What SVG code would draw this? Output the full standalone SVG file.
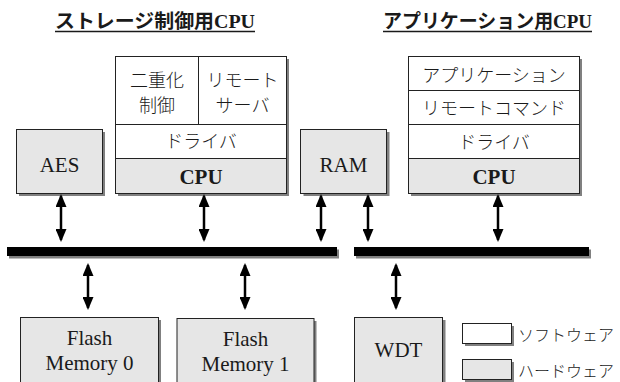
<svg xmlns="http://www.w3.org/2000/svg" width="620" height="382" viewBox="0 0 620 382">
<style>
  text { fill: #1a1a1a; }
  .ttl { font-family: "Liberation Serif", "Noto Sans CJK JP", serif; font-size: 19.5px; font-weight: bold; text-anchor: middle; }
  .jp { font-family: "Noto Sans CJK JP", sans-serif; font-size: 18px; font-weight: 300; text-anchor: middle; }
  .lat { font-family: "Liberation Serif", "DejaVu Serif", serif; font-size: 21px; text-anchor: middle; }
  .latb { font-family: "Liberation Serif", "DejaVu Serif", serif; font-size: 21px; font-weight: bold; text-anchor: middle; }
  .leg { font-family: "Noto Sans CJK JP", sans-serif; font-size: 16px; font-weight: 300; }
  .hw { fill: #e6e6e6; stroke: #222; stroke-width: 1; }
  .sw { fill: #ffffff; stroke: #222; stroke-width: 1; }
  .sh { fill: #808080; }
  .div { stroke: #222; stroke-width: 1; fill: none; }
  .ul { stroke: #1a1a1a; stroke-width: 1.5; }
  .arr { stroke: #000; stroke-width: 2.5; fill: none; marker-start: url(#ah); marker-end: url(#ah); }
  .bus { fill: #000; }
</style>
<defs>
  <marker id="ah" viewBox="0 0 13 11" refX="11" refY="5.5" markerWidth="13" markerHeight="11" markerUnits="userSpaceOnUse" orient="auto-start-reverse">
    <path d="M0,0 L13,5.5 L0,11 z" fill="#000"/>
  </marker>
</defs>

<g id="title-storage">
  <text class="ttl" x="155" y="28" textLength="200" lengthAdjust="spacingAndGlyphs">ストレージ制御用CPU</text>
  <line class="ul" x1="55" y1="31.5" x2="255" y2="31.5"/>
</g>
<g id="title-app">
  <text class="ttl" x="487.5" y="28" textLength="209" lengthAdjust="spacingAndGlyphs">アプリケーション用CPU</text>
  <line class="ul" x1="383" y1="31.5" x2="592" y2="31.5"/>
</g>

<g id="aes">
  <rect class="sh" x="19" y="132" width="86" height="64"/>
  <rect class="hw" x="16.5" y="129.5" width="86" height="64"/>
  <text class="lat" x="59.5" y="172">AES</text>
</g>

<g id="storage-cpu">
  <rect class="sh" x="118" y="59" width="171" height="137"/>
  <rect class="sw" x="115.5" y="56.5" width="171" height="68"/>
  <rect class="sw" x="115.5" y="124.5" width="171" height="34"/>
  <rect class="hw" x="115.5" y="158.5" width="171" height="35"/>
  <line class="div" x1="198.5" y1="56.5" x2="198.5" y2="124.5"/>
  <text class="jp" x="157" y="87">二重化</text>
  <text class="jp" x="157" y="112">制御</text>
  <text class="jp" x="242.5" y="87">リモート</text>
  <text class="jp" x="242.5" y="112">サーバ</text>
  <text class="jp" x="201" y="148">ドライバ</text>
  <text class="latb" x="201" y="184">CPU</text>
</g>

<g id="ram">
  <rect class="sh" x="303.5" y="132" width="86" height="64"/>
  <rect class="hw" x="300.5" y="129.5" width="86" height="64"/>
  <text class="lat" x="343.5" y="172">RAM</text>
</g>

<g id="app-cpu">
  <rect class="sh" x="411" y="59" width="171" height="137"/>
  <rect class="sw" x="408.5" y="56.5" width="171" height="34"/>
  <rect class="sw" x="408.5" y="90.5" width="171" height="34"/>
  <rect class="sw" x="408.5" y="124.5" width="171" height="34"/>
  <rect class="hw" x="408.5" y="158.5" width="171" height="35"/>
  <text class="jp" x="494" y="82">アプリケーション</text>
  <text class="jp" x="494" y="115">リモートコマンド</text>
  <text class="jp" x="494" y="149">ドライバ</text>
  <text class="latb" x="494" y="184">CPU</text>
</g>

<g id="bus-1">
  <rect class="sh" x="9" y="249.5" width="330" height="9"/>
  <rect class="bus" x="7" y="247" width="330" height="9"/>
</g>
<g id="bus-2">
  <rect class="sh" x="356" y="249.5" width="235" height="9"/>
  <rect class="bus" x="354" y="247" width="235" height="9"/>
</g>

<g id="flash0">
  <rect class="sh" x="23" y="320" width="138" height="70"/>
  <rect class="hw" x="20.5" y="317.5" width="138" height="70"/>
  <text class="lat" x="89.5" y="345">Flash</text>
  <text class="lat" x="89.5" y="370">Memory 0</text>
</g>
<g id="flash1">
  <rect class="sh" x="179.5" y="321" width="137" height="70"/>
  <rect class="hw" x="177" y="318.5" width="137" height="70"/>
  <text class="lat" x="245.5" y="346">Flash</text>
  <text class="lat" x="245.5" y="371">Memory 1</text>
</g>
<g id="wdt">
  <rect class="sh" x="357.5" y="320" width="88" height="70"/>
  <rect class="hw" x="354.5" y="317.5" width="88" height="70"/>
  <text class="lat" x="398.5" y="357">WDT</text>
</g>

<g id="legend">
  <rect class="sh" x="465" y="326" width="49" height="20"/>
  <rect class="sw" x="462.5" y="323.5" width="49" height="20"/>
  <text class="leg" x="518" y="341">ソフトウェア</text>
  <rect class="sh" x="465" y="362" width="49" height="20"/>
  <rect class="hw" x="462.5" y="359.5" width="49" height="20"/>
  <text class="leg" x="518" y="377">ハードウェア</text>
</g>

<g id="connectors">
  <line class="arr" x1="61" y1="196" x2="61" y2="240"/>
  <line class="arr" x1="204" y1="196" x2="204" y2="240"/>
  <line class="arr" x1="321" y1="196" x2="321" y2="240"/>
  <line class="arr" x1="368" y1="196" x2="368" y2="240"/>
  <line class="arr" x1="498" y1="196" x2="498" y2="240"/>
  <line class="arr" x1="88" y1="265" x2="88" y2="308"/>
  <line class="arr" x1="245" y1="265" x2="245" y2="308"/>
  <line class="arr" x1="396" y1="265" x2="396" y2="308"/>
</g>
</svg>
